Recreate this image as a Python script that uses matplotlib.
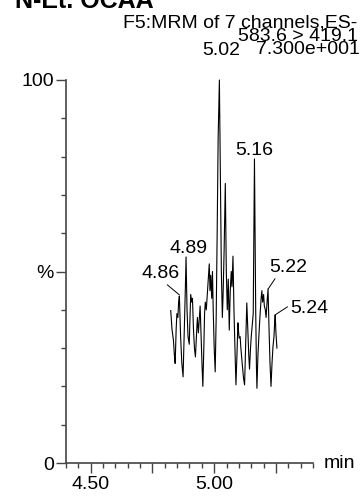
import matplotlib.pyplot as plt
import numpy as np

plt.rcParams['font.family'] = ['Liberation Sans', 'DejaVu Sans']

# retention time (min) and relative intensity (%)
rt = [4.824, 4.829, 4.835, 4.840, 4.842, 4.846, 4.849, 4.853, 4.856, 4.859,
      4.864, 4.869, 4.874, 4.879, 4.883, 4.886, 4.890, 4.894, 4.899, 4.902,
      4.905, 4.909, 4.912, 4.916, 4.920, 4.924, 4.928, 4.932, 4.936, 4.939,
      4.943, 4.947, 4.951, 4.954, 4.958, 4.961, 4.964, 4.968, 4.972, 4.976,
      4.980, 4.983, 4.986, 4.990, 4.993, 4.996, 5.000, 5.004, 5.008, 5.012,
      5.016, 5.021, 5.025, 5.029, 5.033, 5.036, 5.040, 5.045, 5.049, 5.053,
      5.057, 5.061, 5.065, 5.069, 5.072, 5.076, 5.080, 5.084, 5.088, 5.092,
      5.096, 5.099, 5.101, 5.105, 5.108, 5.112, 5.115, 5.119, 5.123, 5.127,
      5.132, 5.136, 5.140, 5.143, 5.147, 5.150, 5.154, 5.158, 5.163, 5.168,
      5.171, 5.173, 5.177, 5.180, 5.185, 5.190, 5.193, 5.196, 5.200, 5.203,
      5.207, 5.210, 5.214, 5.218, 5.222, 5.226, 5.230, 5.234, 5.238, 5.242,
      5.245, 5.247, 5.250, 5.254]
intensity = [39.8, 35, 32, 27, 26, 35, 39, 38, 42, 43.6,
             33, 26, 22.5, 35, 45, 53.8, 40, 33, 31, 38,
             44, 42, 43, 35, 30, 27.7, 33, 38, 34, 37,
             41, 33, 25, 20, 30, 39, 42, 40, 44, 48,
             52, 45, 49, 43, 50, 40, 30, 23.8, 38, 60,
             85, 100, 75, 50, 38, 44, 55, 73, 50, 40,
             48, 34.7, 45, 50, 46, 54, 40, 30, 20.4, 28,
             36.6, 34, 32.6, 33, 30, 27, 24.8, 22, 20.4, 30,
             41.8, 35, 28, 24.5, 30, 33, 36, 39, 79.4, 40,
             25, 19.5, 28, 32, 38, 43, 45, 42, 44, 41,
             40, 38, 42, 45.4, 35, 26, 20, 26, 30.4, 33,
             37, 38.6, 34, 30]

fig = plt.figure(figsize=(3.6, 4.96), dpi=100)
ax = fig.add_axes([66/360, 1 - 463/496, 247/360, 383/496])

ax.plot(rt, intensity, color='black', linewidth=0.8, clip_on=False)

ax.set_xlim(4.40, 5.40)
ax.set_ylim(0, 100)
for s in ['top', 'right']:
    ax.spines[s].set_visible(False)
for s in ['left', 'bottom']:
    ax.spines[s].set_color('#444444')
    ax.spines[s].set_linewidth(1.2)

fs = 14
ax.set_xticks([4.50, 4.75, 5.00, 5.25])
ax.set_xticklabels(['4.50', '', '5.00', ''])
ax.set_xticks(np.arange(4.40, 5.401, 0.05), minor=True)
ax.set_yticks([0, 50, 100])
ax.set_yticklabels(['0', '%', '100'])
ax.set_yticks(np.arange(0, 101, 10), minor=True)
ax.tick_params(which='major', length=7.2, width=1, color='#444444',
               labelsize=fs, pad=1.5)
ax.tick_params(which='minor', length=3.6, width=1, color='#444444')
ax.tick_params(axis='x', which='major', pad=2.5)

# peak labels
ax.text(5.028, 106.5, '5.02', ha='center', va='baseline', fontsize=fs, clip_on=False)
ax.text(5.164, 80.4, '5.16', ha='center', va='baseline', fontsize=fs)
ax.text(4.895, 54.8, '4.89', ha='center', va='baseline', fontsize=fs)
ax.annotate('4.86', xy=(4.859, 43.9), xytext=(4.781, 48.3), ha='center', va='baseline',
            fontsize=fs, arrowprops=dict(arrowstyle='-', lw=0.7, color='black',
                                          shrinkA=0, shrinkB=0, relpos=(0.6, 0)))
ax.annotate('5.22', xy=(5.218, 45.4), xytext=(5.300, 49.9), ha='center', va='baseline',
            fontsize=fs, arrowprops=dict(arrowstyle='-', lw=0.7, color='black',
                                          shrinkA=0, shrinkB=0, relpos=(0.2, 0)))
ax.annotate('5.24', xy=(5.245, 38.6), xytext=(5.308, 39.2), ha='left', va='baseline',
            fontsize=fs, arrowprops=dict(arrowstyle='-', lw=0.7, color='black',
                                          shrinkA=0, shrinkB=0, relpos=(0, 0.7)))

ax.text(5.445, 0, 'min', ha='left', va='center', fontsize=fs, clip_on=False)

# header
fig.text(15/360, 1 - 8/496, 'N-Et. OCAA', ha='left', va='baseline',
         fontsize=18, fontweight='bold')
fig.text(123/360, 1 - 27/496, 'F5:MRM of 7 channels,ES-', ha='left', va='baseline',
         fontsize=fs)
fig.text(358/360, 1 - 41/496, '583.6 > 419.1', ha='right', va='baseline', fontsize=fs)
fig.text(360/360, 1 - 54.5/496, '7.300e+001', ha='right', va='baseline', fontsize=fs)

fig.savefig('out.png', dpi=100)
